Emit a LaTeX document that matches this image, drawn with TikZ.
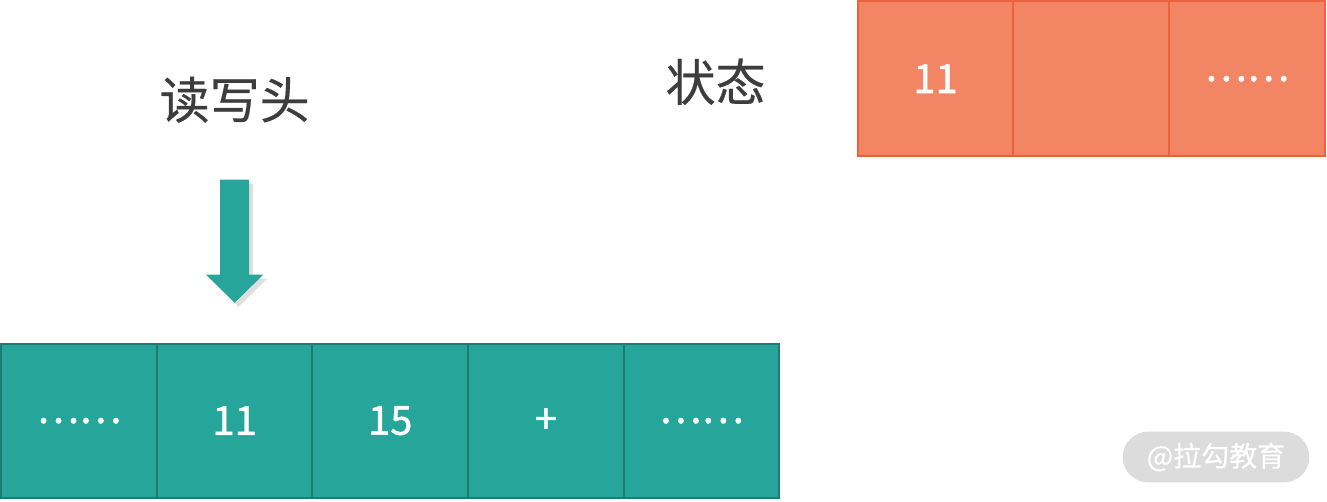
\documentclass[tikz,border=0pt]{standalone}
\usepackage{fontspec}
\setmainfont{Noto Sans CJK SC}
\newfontfamily\cellfont[FakeBold=1.2]{Noto Sans CJK SC}
\newfontfamily\labelfont[FakeBold=0.4]{Noto Sans CJK SC}
\usepackage{tikz}
\usetikzlibrary{positioning,shadows}
\definecolor{tapefill}{HTML}{26A69A}
\definecolor{tapeline}{HTML}{1F7A70}
\definecolor{statefill}{HTML}{F28563}
\definecolor{stateline}{HTML}{EC6240}
\definecolor{labeltext}{HTML}{3D3D3D}
\definecolor{markfill}{HTML}{DCDCDC}
\tikzstyle{tape}=[rectangle,
line width=1.5pt,
draw=tapeline,
fill=tapefill,
minimum width=116.7pt,
minimum height=115.5pt,
inner sep=0pt,
text=white,
font=\cellfont\fontsize{30}{30}\selectfont]
\tikzstyle{register}=[rectangle,
line width=1.5pt,
draw=stateline,
fill=statefill,
minimum width=116.75pt,
minimum height=116.25pt,
inner sep=0pt,
text=white,
font=\cellfont\fontsize{30}{30}\selectfont]
\tikzstyle{caption}=[text=labeltext,
inner sep=0pt,
font=\labelfont\fontsize{37.5}{40}\selectfont]
\tikzstyle{watermark}=[rectangle,
fill=markfill,
rounded corners=19pt,
minimum width=140pt,
minimum height=38pt,
text=white,
font=\labelfont\fontsize{21}{21}\selectfont]

\begin{document}
\begin{tikzpicture}[>=latex]
		\useasboundingbox (0,0) rectangle (995.25pt,375.75pt);
		
		% The tape cells are placed in one row of a matrix:
		\matrix (tape) [matrix anchor=south west,column sep=-1.5pt,inner sep=0pt]
		at (0,1.5pt) {
			\node (t_1) [tape] {……}; &
			\node (t_2) [tape] {11}; &
			\node (t_3) [tape] {15}; &
			\node (t_4) [tape] {+}; &
			\node (t_5) [tape] {……}; \\
		};
		
		% The state register, top right:
		\matrix (reg) [matrix anchor=north east,column sep=-1.5pt,inner sep=0pt]
		at (994.5pt,375.75pt) {
			\node (s_1) [register] {11}; &
			\node (s_2) [register] {}; &
			\node (s_3) [register] {……}; \\
		};
		
		% Read/write head pointing at the second cell
		\coordinate (tip) at ([yshift=30pt]t_2.north);
		\fill[tapefill,drop shadow={shadow xshift=3pt,shadow yshift=-3pt,opacity=.25}]
		(tip) -- ++(-21.4pt,21pt) -- ++(10.5pt,0) -- ++(0,71.25pt)
		-- ++(21.8pt,0) -- ++(0,-71.25pt) -- ++(10.5pt,0) -- cycle;
		
		% Labels
		\node (head_label) [caption] at ([yshift=182.25pt]t_2.north) {读写头};
		\node (state_label) [caption] at ([xshift=-165pt,yshift=-2.25pt]s_1.center) {状态};
		
		\node (mark) [watermark] at (912pt,33pt) {@拉勾教育};
\end{tikzpicture}
\end{document}
